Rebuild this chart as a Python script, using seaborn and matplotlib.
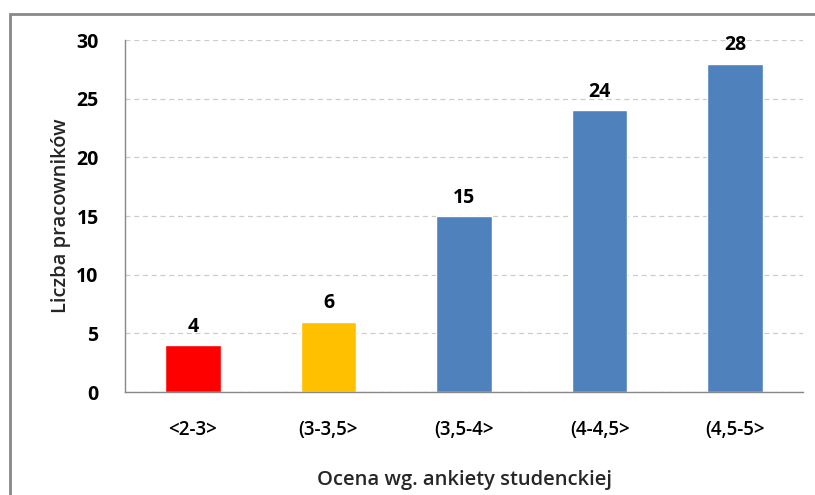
import pandas as pd
import matplotlib.pyplot as plt
import seaborn as sns
import numpy as np
from matplotlib.patches import Rectangle

categories = ['<2-3>', '(3-3,5>', '(3,5-4>', '(4-4,5>', '(4,5-5>']
counts = [4, 6, 15, 24, 28]
colors = ['#FF0000', '#FFC000', '#4F81BD', '#4F81BD', '#4F81BD']

df = pd.DataFrame({'ocena': categories, 'liczba': counts})

sns.set_style('white')
plt.rcParams['font.family'] = ['Open Sans', 'DejaVu Sans']
plt.rcParams['text.color'] = 'black'

fig = plt.figure(figsize=(8.15, 4.95), dpi=100)
ax = fig.add_axes([0.1534, 0.208, 0.832, 0.711])

sns.barplot(data=df, x='ocena', y='liczba', hue='ocena', palette=colors,
            width=0.41, legend=False, ax=ax, saturation=1)

for c in ax.containers:
    ax.bar_label(c, padding=6, fontsize=14, fontweight='bold')

ax.set_ylim(0, 30)
ax.set_xlim(-0.5, len(categories) - 0.5)
ax.set_yticks(range(0, 31, 5))
ax.set_yticklabels([str(v) for v in range(0, 31, 5)], fontsize=14, fontweight='bold')
ax.set_xticks(range(len(categories)))
ax.set_xticklabels(categories, fontsize=13.5, fontweight='semibold')
ax.tick_params(axis='x', length=0, pad=20, labelcolor='black')
ax.tick_params(axis='y', length=7, width=1, color='#888888', direction='out', pad=12, labelcolor='black')
ax.set_xticks(np.arange(-0.5, len(categories)), minor=True)
ax.tick_params(axis='x', which='minor', length=7, width=1, color='#888888', direction='out')

ax.yaxis.grid(True, linestyle=(0, (4, 3)), color='#cccccc', linewidth=0.9)
ax.set_axisbelow(True)
for s in ['top', 'right']:
    ax.spines[s].set_visible(False)
for s in ['left', 'bottom']:
    ax.spines[s].set_color('#888888')
    ax.spines[s].set_linewidth(1)

ax.set_xlabel('Ocena wg. ankiety studenckiej', fontsize=14.5, fontweight='semibold', labelpad=22)
ax.set_ylabel('Liczba pracowników', fontsize=14.5, fontweight='semibold', labelpad=4)

fig.patches.append(Rectangle((10 / 815, -0.1), 1.0, 1.1 - 14 / 495, transform=fig.transFigure,
                             fill=False, edgecolor='#888888', linewidth=2))

fig.savefig('out.png', dpi=100)
